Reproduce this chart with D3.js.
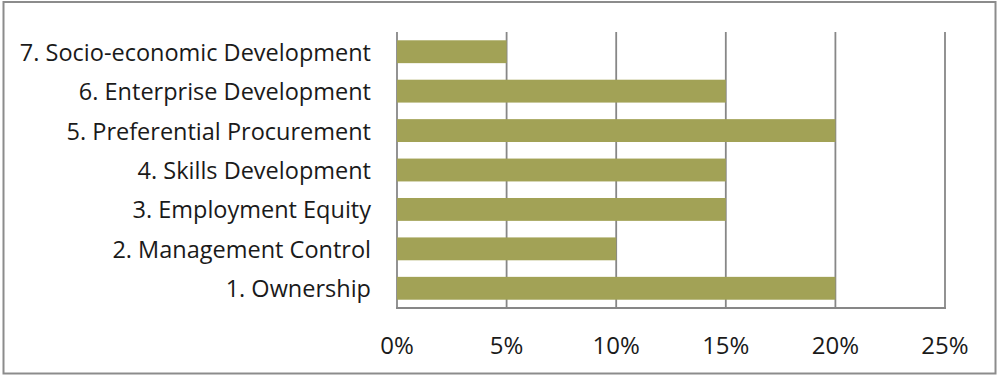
<!DOCTYPE html>
<html>
<head>
<meta charset="utf-8">
<script src="https://cdn.jsdelivr.net/npm/d3@7"></script>
<style>
    body { margin: 0; background: #fff; }
    svg text { font-family: "Open Sans", sans-serif; fill: #1a1a1a; }
</style>
</head>
<body>
<div id="chart"></div>
<script>

// categories, bottom to top as in the picture
const categories = [
    "1. Ownership",
    "2. Management Control",
    "3. Employment Equity",
    "4. Skills Development",
    "5. Preferential Procurement",
    "6. Enterprise Development",
    "7. Socio-economic Development"
];
const values = [0.20, 0.10, 0.15, 0.15, 0.20, 0.15, 0.05];
const x_ticks = [0, 0.05, 0.10, 0.15, 0.20, 0.25];


function draw_chart() {

    let width = 999;
    let height = 376;

    let svg = d3.select("#chart")
        .append("svg")
        .attr("width", width)
        .attr("height", height);

    // outer frame
    svg.append("rect")
       .attr("x", 3.5)
       .attr("y", 2)
       .attr("width", 992)
       .attr("height", 371.5)
       .attr("fill", "none")
       .attr("stroke", "#8c8c8c")
       .attr("stroke-width", 2);

    let left = 397, right = 945, top = 32, bottom = 308;

    let xScale = d3.scaleLinear()
        .domain([0, 0.25])
        .range([left, right]);

    let yScale = d3.scaleBand()
        .domain(categories.slice().reverse())
        .range([top, bottom])
        .paddingInner(0.42)
        .paddingOuter(0.21);

    let chart = svg.append("g");

    // vertical gridlines
    chart.selectAll(".grid")
         .data(x_ticks)
         .enter()
         .append("line")
         .attr("class", "grid")
         .attr("x1", function(d) { return xScale(d); })
         .attr("x2", function(d) { return xScale(d); })
         .attr("y1", top)
         .attr("y2", bottom)
         .attr("stroke", "#878787")
         .attr("stroke-width", 1.8);

    chart.selectAll(".bar")
         .data(values)
         .enter()
         .append("rect")
         .attr("class", "bar")
         .attr("x", xScale(0))
         .attr("y", function(d, i) { return yScale(categories[i]); })
         .attr("width", function(d) { return xScale(d) - xScale(0); })
         .attr("height", yScale.bandwidth())
         .attr("fill", "#a2a256");

    // bottom axis line
    chart.append("line")
         .attr("x1", left - 1)
         .attr("x2", right + 1)
         .attr("y1", bottom)
         .attr("y2", bottom)
         .attr("stroke", "#878787")
         .attr("stroke-width", 1.8);

    // x tick labels
    chart.selectAll(".xlabel")
         .data(x_ticks)
         .enter()
         .append("text")
         .attr("class", "xlabel")
         .attr("x", function(d) { return xScale(d); })
         .attr("y", 344)
         .attr("text-anchor", "middle")
         .attr("dominant-baseline", "central")
         .attr("font-size", "24px")
         .text(function(d) { return d3.format(".0%")(d); });

    // category labels
    chart.selectAll(".ylabel")
         .data(categories)
         .enter()
         .append("text")
         .attr("class", "ylabel")
         .attr("x", 371)
         .attr("y", function(d) { return yScale(d) + yScale.bandwidth() / 2; })
         .attr("text-anchor", "end")
         .attr("dominant-baseline", "central")
         .attr("font-size", "23.5px")
         .text(function(d) { return d; });
}

draw_chart();
</script>
</body>
</html>
